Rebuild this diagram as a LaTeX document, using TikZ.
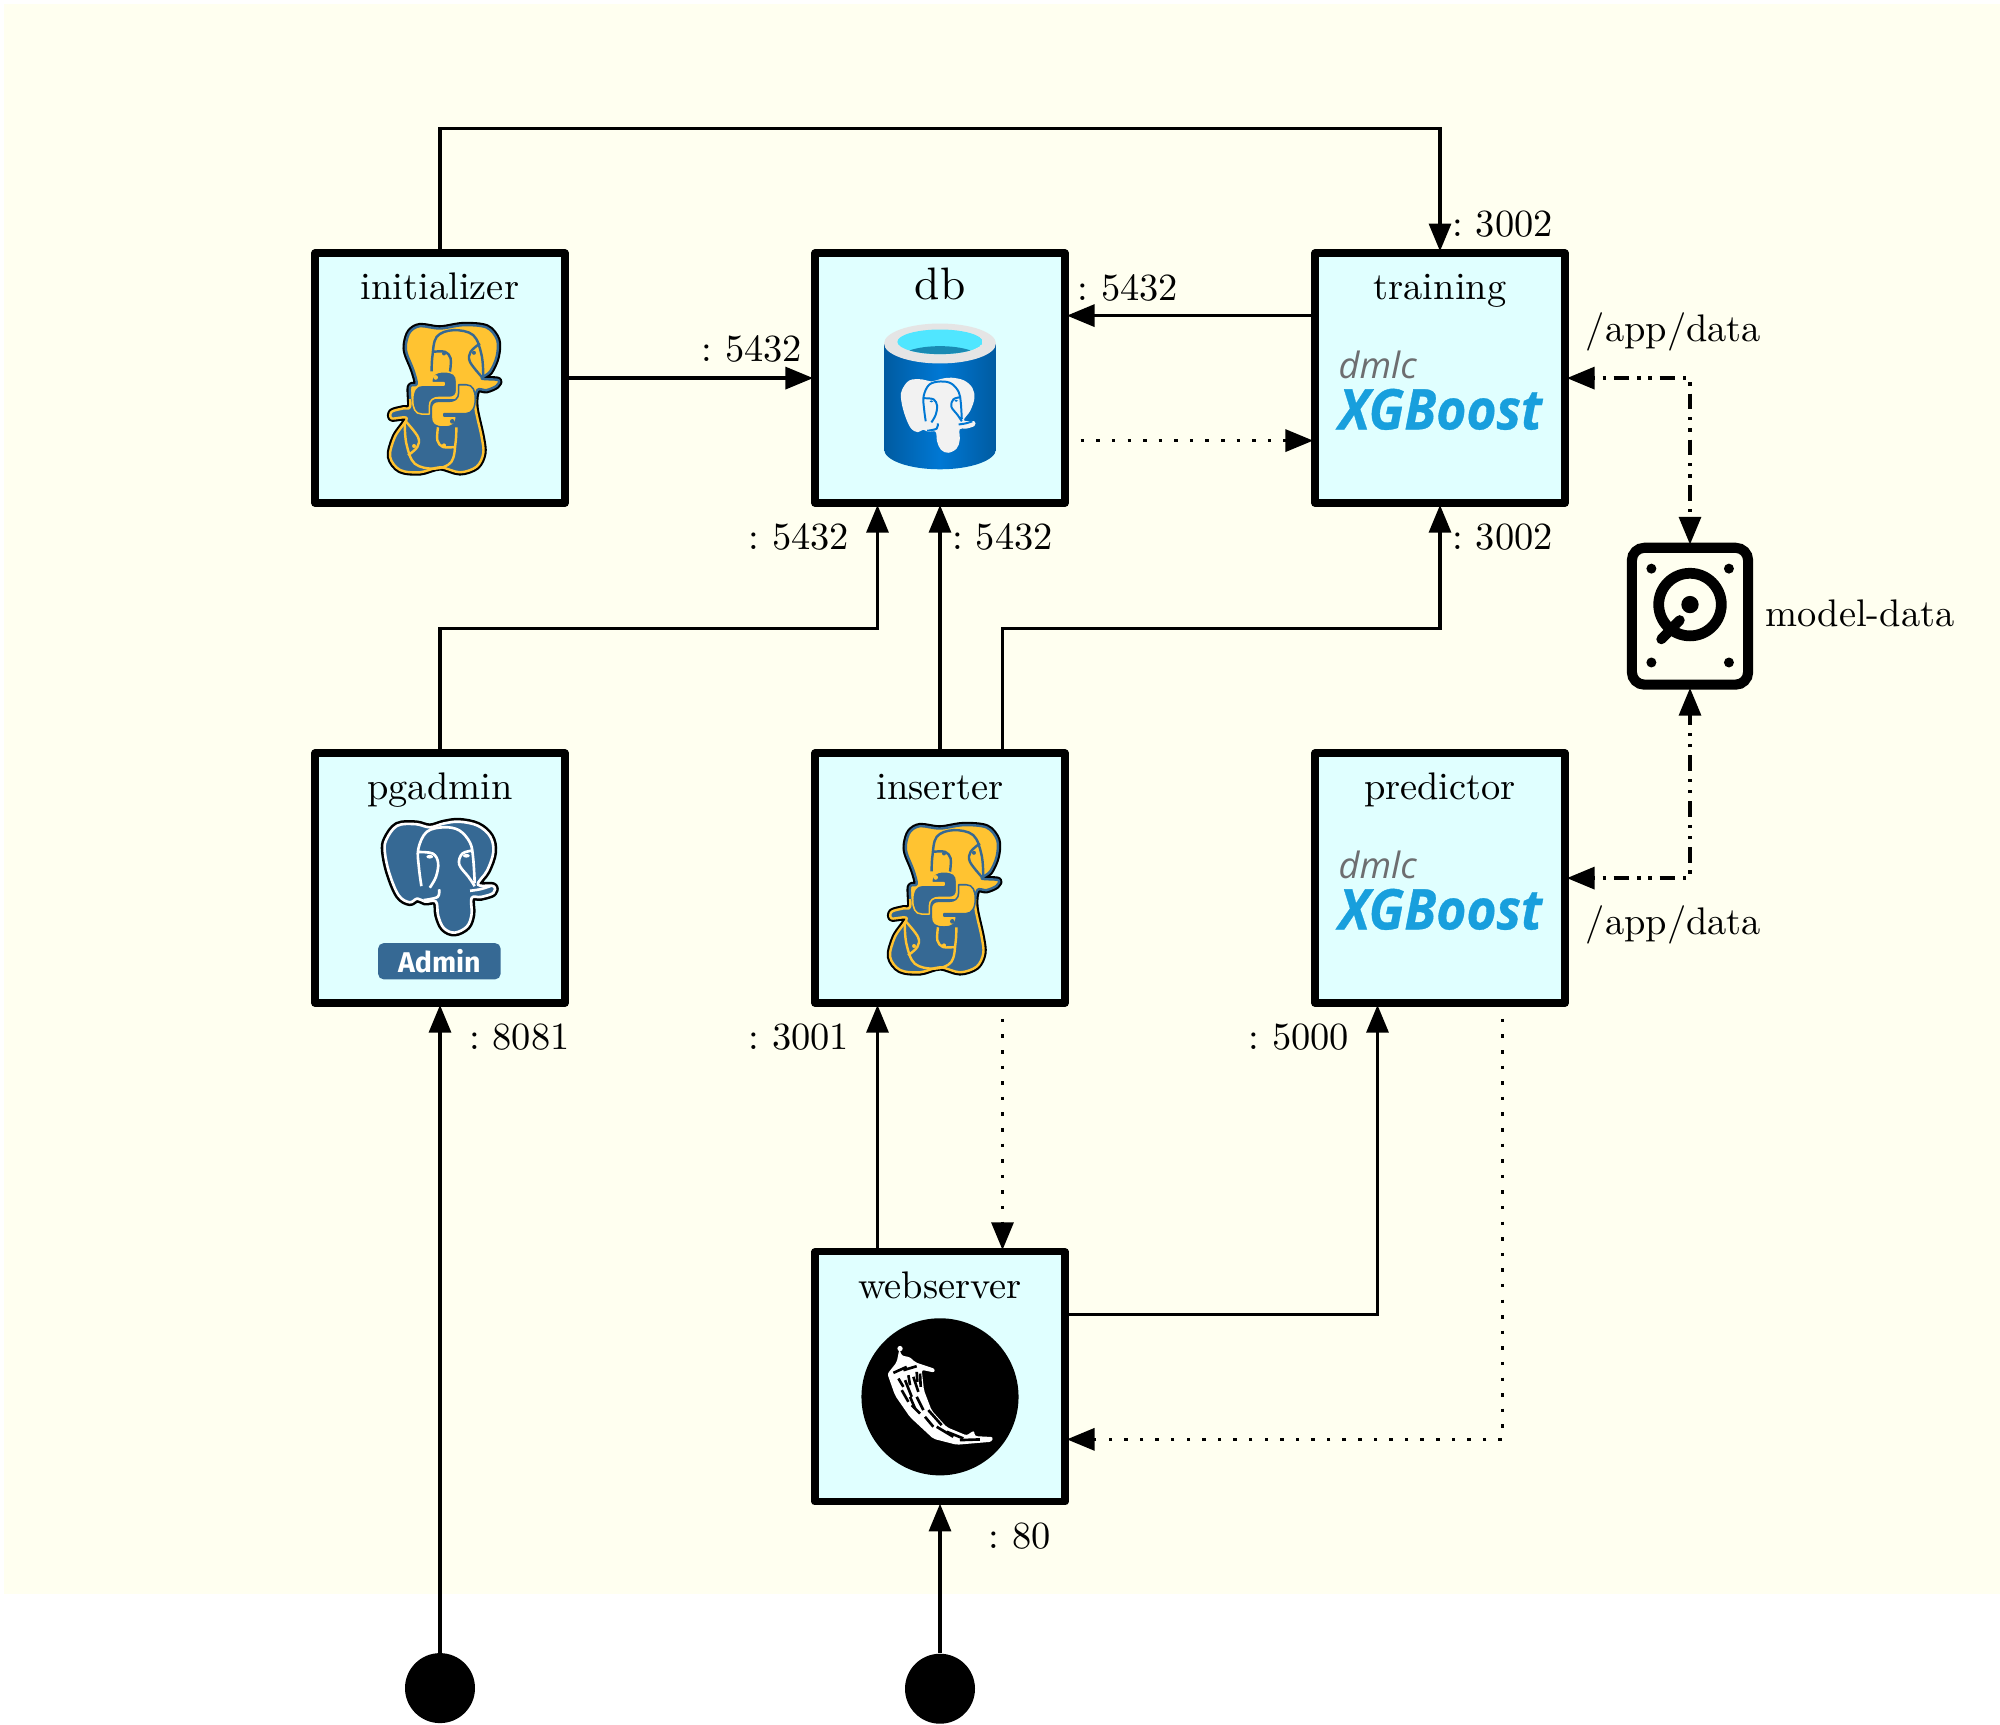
\documentclass[tikz,border=0pt]{standalone}
\usepackage{fontspec}
\usetikzlibrary{positioning,arrows.meta}
\newfontfamily\logofont{Open Sans}
\newfontfamily\xgfont[FakeStretch=.92,FakeBold=.6]{Open Sans}
\newfontfamily\adminfont{Fira Sans}
\newfontfamily\labelfont{lmroman10-regular.otf}
\definecolor{panelcolor}{HTML}{FFFFF0}
\definecolor{blockcolor}{HTML}{E0FFFF}
\definecolor{pgblue}{HTML}{366994}
\definecolor{pyyellow}{HTML}{FFC331}
\definecolor{azureblue}{HTML}{0078D4}
\definecolor{azuredark}{HTML}{005BA1}
\definecolor{azurewater}{HTML}{50E6FF}
\definecolor{azuredeep}{HTML}{198AB3}
\definecolor{xgblue}{HTML}{189FDD}
\definecolor{xggrey}{HTML}{6D6E70}
\tikzset{
	elephant/.style={insert path={plot[smooth cycle,tension=.6] coordinates {(-173,-120) (-138,-165) (-78,-170) (-33,-160) (12,-172) (62,-178) (122,-165) (162,-130) (172,-80) (152,-20) (122,25) (172,30) (172,52) (132,65) (102,68) (102,120) (87,160) (47,180) (12,165) (-6,125) (-13,80) (-48,80) (-73,70) (-98,82) (-133,60) (-163,-10) (-178,-80)}}},
	elephantlines/.style={insert path={
		plot[smooth,tension=.6] coordinates {(-60,30) (-68,-30) (-70,-90) (-43,-145) (12,-160) (62,-150) (97,-110) (107,-60) (112,20)}
		plot[smooth,tension=.6] coordinates {(-68,-80) (-23,-75) (-6,-45) (-13,0) (-33,35)}
		plot[smooth,tension=.6] coordinates {(107,-85) (72,-75) (62,-40) (92,0) (112,30)}
		plot[smooth,tension=.6] coordinates {(-3,40) (-8,65) (-53,75)}
		plot[smooth,tension=.6] coordinates {(97,45) (130,40) (162,30)}}},
	pyelephant/.style={insert path={plot[smooth cycle,tension=.55] coordinates {(-102,-104) (-90,-139) (-60,-156) (0,-149) (70,-159) (140,-152) (172,-114) (170,-64) (150,-19) (125,1) (175,6) (170,23) (140,36) (112,36) (106,86) (125,176) (130,226) (110,266) (60,283) (0,268) (-60,283) (-120,276) (-150,236) (-135,176) (-100,121) (-145,121) (-145,101) (-110,91) (-90,86) (-90,26) (-70,18) (-80,-24) (-100,-74)}}},
	pylines/.style={insert path={
		plot[smooth,tension=.6] coordinates {(-25,-20) (-23,-64) (-10,-124) (40,-144) (100,-129) (125,-69) (130,-4)}
		plot[smooth,tension=.6] coordinates {(-20,-79) (15,-79) (32,-59) (30,-19)}
		plot[smooth,tension=.6] coordinates {(120,-104) (92,-79) (90,-49) (125,-4)}}},
	pysnake/.style={insert path={(-25,14) .. controls (-25,-10) and (-15,-19) .. (12,-19) .. controls (40,-19) and (50,-10) .. (50,10) -- (50,38) .. controls (50,50) and (42,58) .. (30,58) -- (-2,58) .. controls (-20,58) and (-32,66) .. (-32,84) -- (-32,108) -- (-55,108) .. controls (-75,108) and (-82,90) .. (-82,65) .. controls (-82,38) and (-72,21) .. (-52,21) -- (12,21) -- (12,14) -- cycle}},
	pyelephantlogo/.pic={
		\begin{scope}[x=.00533cm,y=-.00533cm,line join=round]
			\draw[black,line width=3pt,pyelephant];
			\begin{scope}
				\clip (-200,-200) rectangle (250,64);
				\draw[pgblue,fill=pyyellow,line width=1.1pt,pyelephant];
				\draw[pgblue,line width=1.1pt,pylines];
				\fill[pgblue] (12,-74) circle (6) (102,-76) circle (6);
			\end{scope}
			\begin{scope}
				\clip (-200,64) rectangle (250,320);
				\draw[pyyellow,fill=pgblue,line width=1.1pt,pyelephant];
				\draw[pyyellow,line width=1.1pt,rotate around={180:(12,64)},pylines];
				\fill[pyyellow,rotate around={180:(12,64)}] (12,-74) circle (6) (102,-76) circle (6);
			\end{scope}
			\draw[pyyellow,fill=pgblue,line width=.7pt,pysnake];
			\draw[pgblue,fill=pyyellow,line width=.7pt,rotate around={180:(12,64)},pysnake];
			\fill[pyyellow] (-13,-2) circle (7);
			\fill[pgblue] (37,130) circle (7);
		\end{scope}
	},
	xgboostlogo/.pic={
		\node[anchor=base west,inner sep=0pt,text=xggrey,font=\logofont\itshape\fontsize{16.5}{17}\selectfont] (-dmlc) at (-1.63,-.01) {dmlc};
		\node[anchor=base west,inner sep=0pt,text=xgblue,font=\xgfont\bfseries\itshape\fontsize{25.5}{26}\selectfont] (-xgboost) at (-1.63,-.82) {XGBoost};
	},
	pgadminlogo/.pic={
		\begin{scope}[x=.00496cm,y=-.00496cm,line join=round,yshift=.02cm]
			\draw[black,line width=3.5pt,elephant];
			\draw[white,fill=pgblue,line width=1.2pt,elephant];
			\draw[white,line width=1.2pt,elephantlines];
			\fill[white] (-33,-65) ellipse (11 and 6) (85,-68) ellipse (11 and 6);
		\end{scope}
		\node[fill=pgblue,rounded corners=2.5pt,minimum width=1.96cm,minimum height=.58cm,inner sep=0pt,text=white,font=\adminfont\bfseries\fontsize{13}{13}\selectfont] (-badge) at (-.01,-1.33) {Admin};
	},
	azuredblogo/.pic={
		\begin{scope}[x=.00533cm,y=-.00533cm]
			\shade[left color=azuredark,right color=azuredark,middle color=azureblue] (-168,-104) -- (-168,214) arc (180:0:168 and 60) -- (168,-104) -- cycle;
			\fill[black!10] (0,-104) ellipse (168 and 60);
			\begin{scope}
				\clip (0,-109) ellipse (128 and 37);
				\fill[azurewater] (0,-109) ellipse (128 and 37);
				\fill[azuredeep] (0,-56) ellipse (125 and 40);
			\end{scope}
			\begin{scope}[x=.00336cm,y=-.00336cm,shift={(-8,176)}]
				\fill[black!5,elephant];
				\draw[azureblue,line width=.9pt,elephantlines];
				\fill[azureblue] (-33,-65) ellipse (9 and 5) (85,-68) ellipse (9 and 5);
			\end{scope}
		\end{scope}
	},
	flasklogo/.pic={
		\begin{scope}[x=.00533cm,y=-.00533cm,line join=round]
			\fill[black] (0,60) circle (236);
			\fill[white,rounded corners=1pt] (-122,-84) -- (-115,-64) -- (-90,-59) -- (-75,-44) -- (-15,-24) -- (-17,-13) -- (-55,-21) -- (-48,41) -- (-25,101) -- (20,151) -- (80,176) -- (102,161) -- (105,178) -- (160,181) -- (155,195) -- (50,204) -- (-20,186) -- (-90,121) -- (-135,56) -- (-158,-9) -- (-130,-44) -- (-125,-69) -- cycle;
			\fill[white] (-120,-85) circle (8);
			\foreach \px/\py/\qx/\qy in {-140/-12/-100/-30,-110/-20/-70/-32,-105/10/-85/60,-80/0/-65/45,-115/40/-95/75,-70/60/-50/100,-85/85/-60/110,-45/120/-20/150,-10/150/40/180,-60/-10/-58/30,60/190/120/188,-125/5/-110/30,-95/-5/-90/25,-70/-15/-68/15,-90/60/-75/95,-35/100/5/145,20/165/70/185}
				\draw[black,line width=1.2pt] (\px,\py) -- (\qx,\qy);
		\end{scope}
	},
	disklogo/.pic={
		\begin{scope}[x=.00533cm,y=-.00533cm]
			\fill[black] (-116,-143) circle (15) (117,-143) circle (15) (-116,139) circle (15) (117,139) circle (15) (0,-35) circle (26);
			\draw[black,line width=4.9pt] (0,-35) circle (94);
			\draw[black,line width=4.6pt,line cap=round] (-86,69) -- (-31,12);
		\end{scope}
	}
}
\begin{document}
\begin{tikzpicture}
	\tikzstyle{block} =[draw, line width=3.3pt, line join=round, minimum width=4cm, minimum height=4cm, inner sep=0pt, fill=blockcolor];
	\tikzstyle{blocktitle} =[anchor=base, inner sep=0pt, font=\labelfont\fontsize{17.5}{21}\selectfont\frenchspacing];
	\tikzstyle{port} =[inner sep=0pt, font=\labelfont\fontsize{17.5}{21}\selectfont\frenchspacing];
	\tikzstyle{volume} =[draw, line width=4.6pt, rounded corners=.2cm, minimum width=1.86cm, minimum height=2.19cm, inner sep=0pt];
	\tikzstyle{entry} =[circle, fill=black, inner sep=0pt, minimum size=1.12cm];
	\tikzstyle{flow} =[-{Triangle[length=12.6pt,width=10pt]}, line width=1.5pt, shorten >=-.8pt];
	\tikzstyle{flowdotted} =[flow, dash pattern=on 1.6pt off 5.5pt, dash phase=1.6pt];
	\tikzstyle{flowmount} =[{Triangle[length=12.6pt,width=10pt]}-{Triangle[length=12.6pt,width=10pt]}, line width=1.5pt, shorten >=-.8pt, shorten <=-.8pt, dash pattern=on 7.1pt off 3.6pt on 1.5pt off 3.6pt on 1.5pt off 3.6pt, dash phase=11.8pt];

	\useasboundingbox (0,0) rectangle (32,27.6);
	\fill[panelcolor] (.06,2.096) rectangle (32,27.54);

	\node[block] (initializer) at (7.04,21.55) {};
	\node[block, right of = initializer, node distance=8cm] (db) {};
	\node[block, right of = db, node distance=8cm] (training) {};
	\node[block, below of = initializer, node distance=8cm] (pgadmin) {};
	\node[block, right of = pgadmin, node distance=8cm] (inserter) {};
	\node[block, right of = inserter, node distance=8cm] (predictor) {};
	\node[block, below of = inserter, node distance=7.98cm] (webserver) {};
	\node[volume] (modeldata) at ([xshift=4cm,yshift=-3.81cm]training.center) {};
	\node[entry, below of = pgadmin, node distance=12.96cm] (pgadminentry) {};
	\node[entry, below of = webserver, node distance=4.99cm] (webserverentry) {};

	\node[blocktitle] (initializertitle) at ([yshift=1.25cm]initializer.center) {initializer};
	\node[blocktitle, font=\labelfont\fontsize{20.7}{24}\selectfont] (dbtitle) at ([yshift=1.25cm]db.center) {db};
	\node[blocktitle] (trainingtitle) at ([yshift=1.25cm]training.center) {training};
	\node[blocktitle] (pgadmintitle) at ([yshift=1.25cm]pgadmin.center) {pgadmin};
	\node[blocktitle] (insertertitle) at ([yshift=1.25cm]inserter.center) {inserter};
	\node[blocktitle] (predictortitle) at ([yshift=1.25cm]predictor.center) {predictor};
	\node[blocktitle] (webservertitle) at ([yshift=1.25cm]webserver.center) {webserver};

	\pic (initializerlogo) at (initializer.center) {pyelephantlogo};
	\pic (inserterlogo) at (inserter.center) {pyelephantlogo};
	\pic (dblogo) at (db.center) {azuredblogo};
	\pic (traininglogo) at (training.center) {xgboostlogo};
	\pic (predictorlogo) at (predictor.center) {xgboostlogo};
	\pic (pgadminlogo) at (pgadmin.center) {pgadminlogo};
	\pic (webserverlogo) at (webserver.center) {flasklogo};
	\pic (disklogo) at (modeldata.center) {disklogo};

	\draw[flow] (initializer.north) -- ++(0,1.94) -| (training.north);
	\draw[flow] (initializer.east) -- (db.west);
	\draw[flow] ([yshift=1cm]training.west) -- ([yshift=1cm]db.east);
	\draw[flowdotted] ([yshift=-1cm]db.east) -- ([yshift=-1cm]training.west);
	\draw[flow] (pgadmin.north) -- ++(0,1.94) -| ([xshift=-1cm]db.south);
	\draw[flow] (inserter.north) -- (db.south);
	\draw[flow] ([xshift=1cm]inserter.north) -- ++(0,1.94) -| (training.south);
	\draw[flowmount] (training.east) -| (modeldata.north);
	\draw[flowmount] (predictor.east) -| (modeldata.south);
	\draw[flow] (pgadminentry) -- (pgadmin.south);
	\draw[flow] ([xshift=-1cm]webserver.north) -- ([xshift=-1cm]inserter.south);
	\draw[flowdotted] ([xshift=1cm]inserter.south) -- ([xshift=1cm]webserver.north);
	\draw[flow] ([yshift=1cm]webserver.east) -| ([xshift=-1cm]predictor.south);
	\draw[flowdotted] ([xshift=1cm]predictor.south) |- ([yshift=-1cm]webserver.east);
	\draw[flow] (webserverentry) -- (webserver.south);

	\node[port, anchor=base west] (trainingport) at ([xshift=.19cm,yshift=.2cm]training.north) {: 3002};
	\node[port, anchor=base west] (trainingportb) at ([xshift=.19cm,yshift=-.69cm]training.south) {: 3002};
	\node[port, anchor=base east] (dbportleft) at ([xshift=-.14cm,yshift=.26cm]db.west) {: 5432};
	\node[port, anchor=base west] (dbportright) at ([xshift=.14cm,yshift=1.24cm]db.east) {: 5432};
	\node[port, anchor=base east] (dbportsouth) at ([xshift=-1.45cm,yshift=-.69cm]db.south) {: 5432};
	\node[port, anchor=base west] (dbportsouthb) at ([xshift=.19cm,yshift=-.69cm]db.south) {: 5432};
	\node[port, anchor=base west] (pgadminport) at ([xshift=.46cm,yshift=-.69cm]pgadmin.south) {: 8081};
	\node[port, anchor=base east] (inserterport) at ([xshift=-1.45cm,yshift=-.69cm]inserter.south) {: 3001};
	\node[port, anchor=base east] (predictorport) at ([xshift=-1.45cm,yshift=-.69cm]predictor.south) {: 5000};
	\node[port, anchor=base west] (webserverport) at ([xshift=.77cm,yshift=-.69cm]webserver.south) {: 80};
	\node[port, anchor=base west] (trainingmount) at ([xshift=.27cm,yshift=.59cm]training.east) {/app/data};
	\node[port, anchor=base west] (predictormount) at ([xshift=.27cm,yshift=-.91cm]predictor.east) {/app/data};
	\node[port, anchor=base west] (modeldatalabel) at ([xshift=.19cm,yshift=-.16cm]modeldata.east) {model-data};
\end{tikzpicture}
\end{document}
